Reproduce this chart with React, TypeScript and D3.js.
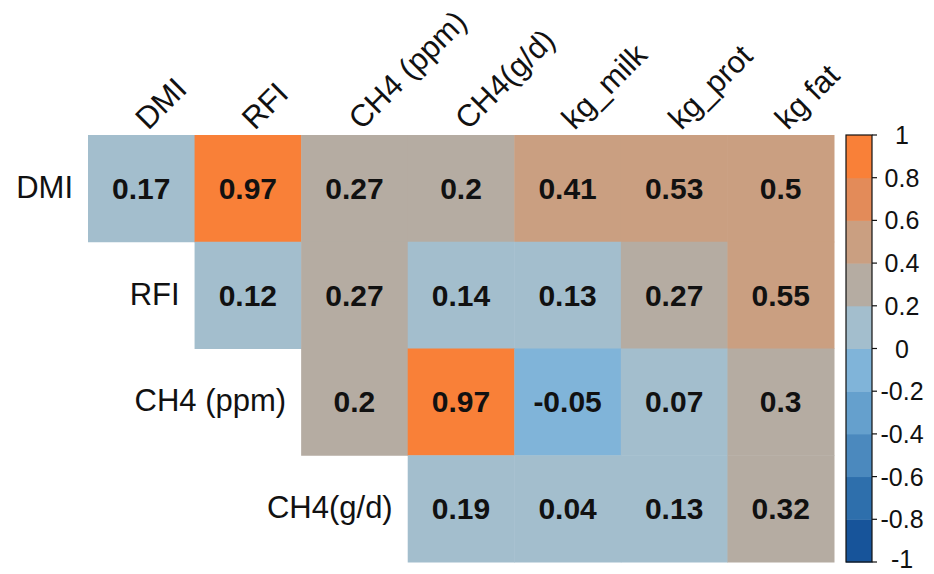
import React from "react";
import * as d3 from "d3";

// correlation matrix, upper triangle: each row starts at its own column
const rowNames = ["DMI", "RFI", "CH4 (ppm)", "CH4(g/d)"];
const colNames = ["DMI", "RFI", "CH4 (ppm)", "CH4(g/d)", "kg_milk", "kg_prot", "kg fat"];
const dmiRow = [0.17, 0.97, 0.27, 0.2, 0.41, 0.53, 0.5];
const rfiRow = [0.12, 0.27, 0.14, 0.13, 0.27, 0.55];
const ch4ppmRow = [0.2, 0.97, -0.05, 0.07, 0.3];
const ch4gdRow = [0.19, 0.04, 0.13, 0.32];
const rowValues = [dmiRow, rfiRow, ch4ppmRow, ch4gdRow];

const legendTicks = [1, 0.8, 0.6, 0.4, 0.2, 0, -0.2, -0.4, -0.6, -0.8, -1];
const binColors = [
  "#17549a", "#2e6fac", "#4b89be", "#65a0cd", "#80b4d9",
  "#a3becd", "#b5aca2", "#ca9f81", "#e38b59", "#f98038",
];

const font = "'Liberation Sans', Arial, sans-serif";

const App = () => {
  const width = 934,
    height = 574;

  const x = d3.scaleBand<string>().domain(colNames).range([88, 834]);
  const y = d3.scaleBand<string>().domain(rowNames).range([135, 562]);

  const thresholds = d3.range(-4, 5).map((i) => i / 5);
  const color = d3.scaleThreshold<number, string>().domain(thresholds).range(binColors);

  const cells = rowValues.flatMap((vals, r) =>
    vals.map((v, k) => ({ row: rowNames[r], col: colNames[r + k], v }))
  );

  // legend
  const ly = d3.scaleLinear().domain([-1, 1]).range([562, 135]);
  const bins = d3.range(-5, 5).map((i) => [i / 5, (i + 1) / 5]);
  const barX = 846,
    barW = 26;

  return (
    <svg width={width} height={height} style={{ position: "absolute", left: 0, top: 0 }}>
      <rect width={width} height={height} fill="white" />
      {cells.map((c, i) => (
        <rect
          key={"c" + i}
          x={x(c.col)}
          y={y(c.row)}
          width={x.bandwidth() + 0.5}
          height={y.bandwidth() + 0.5}
          fill={color(c.v)}
        />
      ))}
      {cells.map((c, i) => (
        <text
          key={"t" + i}
          x={(x(c.col) as number) + x.bandwidth() / 2}
          y={(y(c.row) as number) + y.bandwidth() / 2}
          textAnchor="middle"
          dominantBaseline="central"
          fontFamily={font}
          fontWeight="bold"
          fontSize={30}
          fill="#111"
        >
          {String(c.v)}
        </text>
      ))}
      {rowNames.map((r, i) => (
        <text
          key={"r" + i}
          x={(x(colNames[i]) as number) - 15}
          y={(y(r) as number) + y.bandwidth() / 2 - 1}
          textAnchor="end"
          dominantBaseline="central"
          fontFamily={font}
          fontSize={31}
          fill="#111"
        >
          {r}
        </text>
      ))}
      {colNames.map((c, i) => {
        const cx = (x(c) as number) + x.bandwidth() / 2 + 7;
        const cy = 131;
        return (
          <text
            key={"h" + i}
            transform={`translate(${cx},${cy}) rotate(-45)`}
            fontFamily={font}
            fontSize={31}
            fill="#111"
          >
            {c}
          </text>
        );
      })}
      {bins.map((b, i) => (
        <rect
          key={"b" + i}
          x={barX}
          y={ly(b[1])}
          width={barW}
          height={ly(b[0]) - ly(b[1]) + 0.5}
          fill={binColors[i]}
        />
      ))}
      <rect x={barX} y={ly(1)} width={barW} height={ly(-1) - ly(1)} fill="none" stroke="#111" strokeWidth={1.2} />
      {legendTicks.map((t, i) => (
        <g key={"l" + i}>
          <line x1={barX + barW} x2={barX + barW + 5} y1={ly(t)} y2={ly(t)} stroke="#111" strokeWidth={1.2} />
          <text
            x={902}
            y={Math.min(ly(t), 559)}
            textAnchor="middle"
            dominantBaseline="central"
            fontFamily={font}
            fontSize={25}
            fill="#111"
          >
            {String(t)}
          </text>
        </g>
      ))}
    </svg>
  );
};

export default App;
